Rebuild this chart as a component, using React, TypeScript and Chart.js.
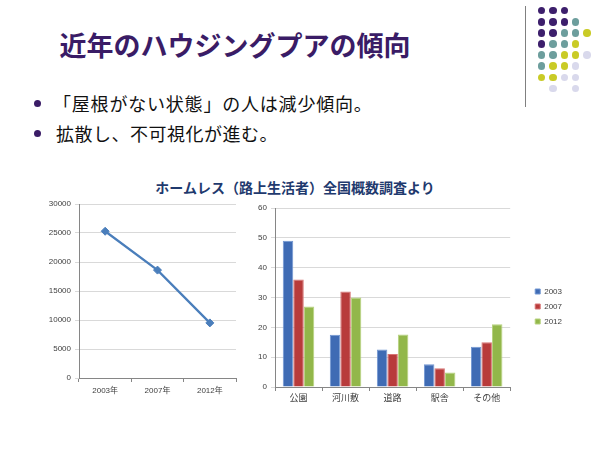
import React, { useEffect, useRef } from "react";
import { Chart, registerables } from "chart.js";
Chart.register(...registerables);

// ---- data ----
const lineYears = ["2003年", "2007年", "2012年"];
const homelessCounts = [25300, 18600, 9500];

const places = ["公園", "河川敷", "道路", "駅舎", "その他"];
const seriesLabels = ["2003", "2007", "2012"];
const share2003 = [49, 17.5, 12.6, 7.6, 13.5];
const share2007 = [36, 32, 11.1, 6.3, 15];
const share2012 = [27, 30, 17.6, 4.9, 21];

const headline = "近年のハウジングプアの傾向";
const bullets = ["「屋根がない状態」の人は減少傾向。", "拡散し、不可視化が進む。"];
const chartTitle = "ホームレス（路上生活者）全国概数調査より";

const dotRows = ["PPP..", "PPPT.", "PPTTY", "PTTY.", "TTYYL", "TYYL.", "YYLL.", ".L.L."];
const dotColors: Record<string, string> = { P: "#3d1f6c", T: "#6d9e9d", Y: "#c9cb26", L: "#d9d9ec" };

const tickFont = { family: "'Liberation Sans', 'Noto Sans CJK JP', sans-serif", size: 8 };
const jp = "'Noto Sans CJK JP', 'Noto Sans', sans-serif";

function LineChart() {
  const ref = useRef<HTMLCanvasElement>(null);
  useEffect(() => {
    const chart = new Chart(ref.current!, {
      type: "line",
      data: {
        labels: lineYears,
        datasets: [
          {
            data: homelessCounts,
            borderColor: "#4a7ebb",
            backgroundColor: "#4a7ebb",
            borderWidth: 2.25,
            pointStyle: "rectRot",
            pointRadius: 4,
            pointBorderWidth: 1,
            tension: 0,
          },
        ],
      },
      options: {
        animation: false,
        responsive: false,
        layout: { padding: { top: 9, right: 9, left: 0, bottom: 0 } },
        plugins: { legend: { display: false }, tooltip: { enabled: false } },
        scales: {
          x: {
            offset: true,
            grid: { offset: true, drawOnChartArea: false, tickLength: 4, color: "#868686" },
            border: { color: "#868686" },
            ticks: { font: tickFont, color: "#404040", padding: 4 },
            afterFit: (s: any) => { s.height = 27; },
          },
          y: {
            min: 0,
            max: 30000,
            ticks: { stepSize: 5000, font: tickFont, color: "#404040", padding: 4, callback: (v: any) => String(v) },
            grid: { color: "#d9d9d9", tickLength: 4 },
            border: { color: "#868686" },
            afterFit: (s: any) => { s.width = 49; },
          },
        },
      },
    });
    return () => chart.destroy();
  }, []);
  return <canvas ref={ref} width={215} height={210} style={{ width: 215, height: 210 }} />;
}

function BarChart() {
  const ref = useRef<HTMLCanvasElement>(null);
  useEffect(() => {
    const chart = new Chart(ref.current!, {
      type: "bar",
      data: {
        labels: places,
        datasets: [
          { label: seriesLabels[0], data: share2003, backgroundColor: "#3f6bb4", borderColor: "#7196d2", borderWidth: 1 },
          { label: seriesLabels[1], data: share2007, backgroundColor: "#b83b3b", borderColor: "#d87474", borderWidth: 1 },
          { label: seriesLabels[2], data: share2012, backgroundColor: "#92b74a", borderColor: "#b6d27c", borderWidth: 1 },
        ],
      },
      options: {
        animation: false,
        responsive: false,
        layout: { padding: { top: 13, right: 28, left: 0, bottom: 0 } },
        datasets: { bar: { categoryPercentage: 0.67, barPercentage: 1 } },
        plugins: {
          tooltip: { enabled: false },
          legend: {
            position: "right",
            labels: { boxWidth: 5, boxHeight: 5, font: tickFont, color: "#404040", padding: 7 },
          },
        },
        scales: {
          x: {
            grid: { offset: true, drawOnChartArea: false, tickLength: 4, color: "#868686" },
            border: { color: "#868686" },
            ticks: { font: { ...tickFont, size: 9 }, color: "#404040", padding: 2 },
            afterFit: (s: any) => { s.height = 18; },
          },
          y: {
            min: 0,
            max: 60,
            ticks: { stepSize: 10, font: tickFont, color: "#404040", padding: 4 },
            grid: { color: "#d9d9d9", tickLength: 4 },
            border: { color: "#868686" },
            afterFit: (s: any) => { s.width = 35; },
          },
          gap: {
            type: "linear",
            position: "right",
            display: true,
            grid: { display: false },
            border: { display: false },
            ticks: { display: false },
            afterFit: (s: any) => { s.width = 18; },
          },
        },
      },
    });
    return () => chart.destroy();
  }, []);
  return <canvas ref={ref} width={360} height={210} style={{ width: 360, height: 210 }} />;
}

export default function App() {
  return (
    <div style={{ position: "absolute", left: 0, top: 0, width: 600, height: 451, background: "#fff", overflow: "hidden" }}>
      <div
        style={{
          position: "absolute", left: 0, top: 26, width: 470, textAlign: "center",
          fontFamily: jp, fontWeight: 700, fontSize: 27, lineHeight: "38px", color: "#3a1c66",
        }}
      >
        {headline}
      </div>
      {bullets.map((b, i) => (
        <div key={i} style={{ position: "absolute", left: 0, top: 90 + i * 30, height: 26 }}>
          <div style={{ position: "absolute", left: 34, top: 10, width: 7, height: 7, borderRadius: "50%", background: "#3a1c66" }} />
          <div
            style={{
              position: "absolute", left: i === 0 ? 53 : 56, top: 0, whiteSpace: "nowrap", fontFamily: jp,
              fontSize: 18, lineHeight: "26px", color: "#111", letterSpacing: i === 0 ? 0.8 : 0.5,
            }}
          >
            {b}
          </div>
        </div>
      ))}
      <div style={{ position: "absolute", left: 524.5, top: 6, width: 1.5, height: 101, background: "#808080" }} />
      {dotRows.map((row, j) =>
        row.split("").map((c, i) =>
          c === "." ? null : (
            <div
              key={`${j}-${i}`}
              style={{
                position: "absolute", left: 541.5 + i * 11.4 - 3.8, top: 10.7 + j * 11.1 - 3.8,
                width: 7.6, height: 7.6, borderRadius: "50%", background: dotColors[c],
              }}
            />
          )
        )
      )}
      <div
        style={{
          position: "absolute", left: 95, top: 178, width: 400, textAlign: "center", whiteSpace: "nowrap",
          fontFamily: jp, fontWeight: 700, fontSize: 14, lineHeight: "18px", color: "#1f3a6e",
        }}
      >
        {chartTitle}
      </div>
      <div style={{ position: "absolute", left: 30, top: 195 }}>
        <LineChart />
      </div>
      <div style={{ position: "absolute", left: 240, top: 195 }}>
        <BarChart />
      </div>
    </div>
  );
}
